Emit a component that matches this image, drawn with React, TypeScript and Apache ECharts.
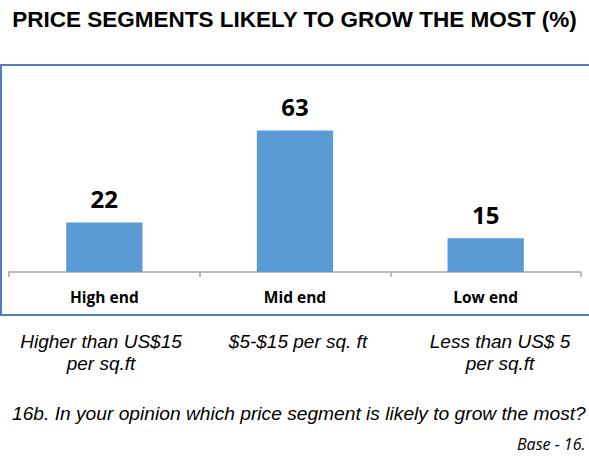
import React, { useEffect, useRef } from "react";
import * as echarts from "echarts";

const title = "PRICE SEGMENTS LIKELY TO GROW THE MOST (%)";
const categories = ["High end", "Mid end", "Low end"];
const values = [22, 63, 15];
const subLabels = [
  ["Higher than US$15", "per sq.ft"],
  ["$5-$15 per sq. ft"],
  ["Less than US$ 5", "per sq.ft"],
];
const subLabelCenters = [101, 298, 500];
const question = "16b. In your opinion which price segment is likely to grow the most?";
const baseNote = "Base - 16.";

export default function App() {
  const ref = useRef<HTMLDivElement>(null);
  useEffect(() => {
    if (!ref.current) return;
    const chart = echarts.init(ref.current, null, { renderer: "svg" });
    const subTexts: any[] = [];
    subLabels.forEach((lines, i) => {
      lines.forEach((line, j) => {
        subTexts.push({
          type: "text",
          x: subLabelCenters[i],
          y: 341 + j * 22,
          style: {
            text: line,
            fill: "#000",
            font: "italic 19px 'Liberation Sans', Arial, sans-serif",
            align: "center",
            verticalAlign: "middle",
          },
        });
      });
    });
    chart.setOption({
      animation: false,
      backgroundColor: "#fff",
      grid: { left: 9, right: 8, top: 70, bottom: 193, containLabel: false },
      xAxis: {
        type: "category",
        data: categories,
        axisLine: { lineStyle: { color: "#A6A6A6", width: 1.5 } },
        axisTick: { show: true, length: 5, lineStyle: { color: "#A6A6A6", width: 1.5 } },
        axisLabel: {
          margin: 17,
          color: "#000",
          fontSize: 15.5,
          fontWeight: "bold",
          fontFamily: "'Open Sans', sans-serif",
        },
      },
      yAxis: {
        type: "value",
        min: 0,
        max: 90,
        show: false,
        splitLine: { show: false },
      },
      series: [
        {
          type: "bar",
          data: values,
          barWidth: "40%",
          itemStyle: { color: "#5B9BD5" },
          label: {
            show: true,
            position: "top",
            distance: 12,
            color: "#000",
            fontSize: 24,
            fontWeight: "bold",
            fontFamily: "'Open Sans', sans-serif",
          },
        },
      ],
      graphic: [
        {
          type: "rect",
          z: -1,
          shape: { x: 1, y: 65, width: 600, height: 250 },
          style: { fill: "none", stroke: "#4F7FB8", lineWidth: 2 },
        },
        {
          type: "text",
          x: 294.5,
          y: 19,
          style: {
            text: title,
            fill: "#000",
            font: "bold 22.5px 'Liberation Sans', Arial, sans-serif",
            align: "center",
            verticalAlign: "middle",
          },
        },
        ...subTexts,
        {
          type: "text",
          x: 12,
          y: 413,
          style: {
            text: question,
            fill: "#000",
            font: "italic 19.2px 'Liberation Sans', Arial, sans-serif",
            align: "left",
            verticalAlign: "middle",
          },
        },
        {
          type: "text",
          x: 517,
          y: 444,
          style: {
            text: baseNote,
            fill: "#000",
            font: "italic 16px 'Open Sans', sans-serif",
            align: "left",
            verticalAlign: "middle",
          },
        },
      ],
    });
    return () => chart.dispose();
  }, []);
  return (
    <div
      ref={ref}
      style={{ position: "absolute", left: 0, top: 0, width: 589, height: 465 }}
    />
  );
}
